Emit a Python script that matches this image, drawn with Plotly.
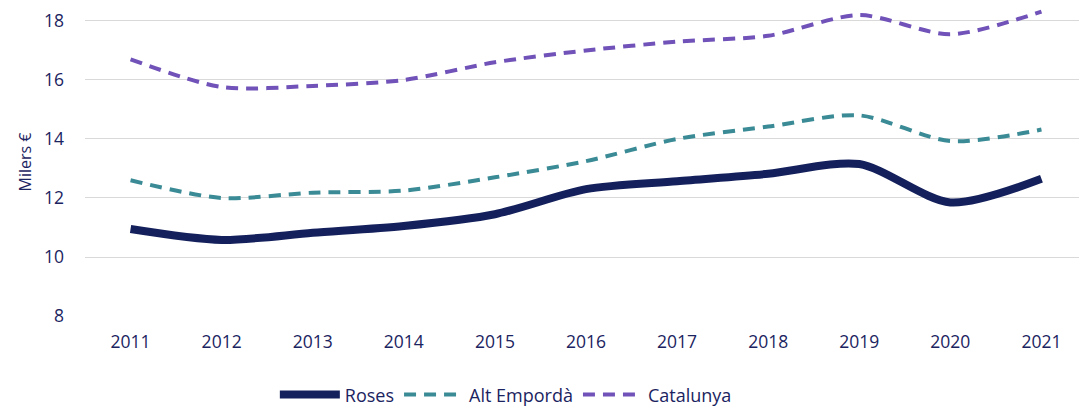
import plotly.graph_objects as go

years = ["2011", "2012", "2013", "2014", "2015", "2016", "2017", "2018", "2019", "2020", "2021"]
roses = [10.95, 10.58, 10.82, 11.05, 11.45, 12.3, 12.57, 12.82, 13.15, 11.85, 12.65]
alt_emporda = [12.6, 12.0, 12.18, 12.25, 12.7, 13.25, 14.0, 14.42, 14.8, 13.93, 14.32]
catalunya = [16.7, 15.76, 15.8, 16.0, 16.6, 17.0, 17.3, 17.5, 18.2, 17.55, 18.32]
y_ticks = [8, 10, 12, 14, 16, 18]

TXT = "#1b2461"
FONT = "Open Sans"

fig = go.Figure()
fig.add_trace(go.Scatter(x=years, y=roses, name="Roses", mode="lines",
                         line=dict(color="#14205c", width=8, shape="spline", smoothing=0.8)))
fig.add_trace(go.Scatter(x=years, y=alt_emporda, name="Alt Empordà", mode="lines",
                         line=dict(color="#3a8b95", width=4, dash="12px,8px", shape="spline", smoothing=0.8)))
fig.add_trace(go.Scatter(x=years, y=catalunya, name="Catalunya", mode="lines",
                         line=dict(color="#7052b8", width=4, dash="12px,8px", shape="spline", smoothing=0.8)))

# page body has an 8px default margin, so the figure is sized/placed to compensate
fig.update_layout(
    width=1079, height=398,
    margin=dict(l=77, r=0, t=0, b=90, autoexpand=False),
    paper_bgcolor="white", plot_bgcolor="white",
    font=dict(family=FONT, color=TXT, size=17),
    showlegend=True,
    legend=dict(orientation="h", x=0.42, xanchor="center", yref="container", y=0.028,
                yanchor="middle", font=dict(size=18, color=TXT), itemwidth=60,
                traceorder="normal"),
)
fig.update_xaxes(type="category", range=[-0.5, 10.5], showgrid=False, showline=False,
                 zeroline=False, ticks="", ticklabelstandoff=13, automargin=False,
                 tickfont=dict(size=17.5, color=TXT))
fig.update_yaxes(range=[8, 18.44], tickvals=y_ticks, showgrid=True, gridcolor="#d9d9d9",
                 gridwidth=1.3, zeroline=False, showline=False, ticks="", ticklabelstandoff=20,
                 automargin=False, tickfont=dict(size=17.5, color=TXT),
                 title=dict(text="Milers €", font=dict(size=16, color=TXT), standoff=8))

fig.write_html("out.html")
